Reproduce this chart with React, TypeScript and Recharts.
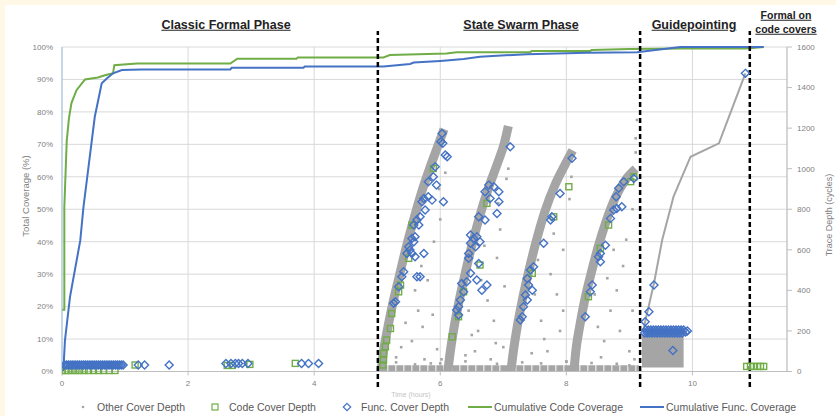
import React from "react";
import {
  ComposedChart,
  Line,
  Scatter,
  Area,
  XAxis,
  YAxis,
  CartesianGrid,
  ReferenceLine,
} from "recharts";

const GREEN = "#70AD47";
const BLUE = "#4472C4";
const GREY = "#A5A5A5";
const FONT = "'Liberation Sans', Arial, sans-serif";

// tick labels
const xTicks = [0, 2, 4, 6, 8, 10];
const pctTicks = [0, 10, 20, 30, 40, 50, 60, 70, 80, 90, 100];
const depthTicks = [0, 200, 400, 600, 800, 1000, 1200, 1400, 1600];

// phase boundaries (hours)
const phaseBoundaries = [5.01, 9.17, 10.91];

// cumulative coverage (hours, %)
const codeCoverage = [
  { x: 0, y: 19 }, { x: 0.037, y: 19 }, { x: 0.037, y: 50.6 }, { x: 0.075, y: 71 },
  { x: 0.11, y: 78 }, { x: 0.15, y: 82.7 }, { x: 0.23, y: 86.7 }, { x: 0.365, y: 90 },
  { x: 0.57, y: 90.6 }, { x: 0.68, y: 91.3 }, { x: 0.81, y: 91.9 }, { x: 0.83, y: 94.4 },
  { x: 1.19, y: 94.9 }, { x: 2.67, y: 94.9 }, { x: 2.78, y: 96.4 }, { x: 3.72, y: 96.4 },
  { x: 3.74, y: 96.8 }, { x: 5.1, y: 96.8 }, { x: 5.2, y: 97.5 }, { x: 6.1, y: 98 },
  { x: 6.26, y: 98.4 }, { x: 7.43, y: 98.4 }, { x: 7.45, y: 98.8 }, { x: 8.38, y: 98.8 },
  { x: 8.4, y: 99.1 }, { x: 9.0, y: 99.4 }, { x: 9.86, y: 99.5 }, { x: 10.87, y: 99.5 },
  { x: 11.13, y: 100 },
];

const funcCoverage = [
  { x: 0.02, y: 0 }, { x: 0.047, y: 9.6 }, { x: 0.127, y: 23 }, { x: 0.29, y: 40.4 },
  { x: 0.34, y: 50.6 }, { x: 0.42, y: 63 }, { x: 0.52, y: 78.5 }, { x: 0.63, y: 88.8 },
  { x: 0.71, y: 90.3 }, { x: 0.81, y: 91.9 }, { x: 0.95, y: 92.9 }, { x: 1.26, y: 93.1 },
  { x: 2.67, y: 93.1 }, { x: 2.69, y: 93.6 }, { x: 3.83, y: 93.6 }, { x: 3.85, y: 94.0 },
  { x: 5.1, y: 94.0 }, { x: 5.52, y: 94.75 }, { x: 5.58, y: 95.2 }, { x: 6.0, y: 95.7 },
  { x: 6.37, y: 96.3 }, { x: 6.63, y: 97.0 }, { x: 7.38, y: 97.8 }, { x: 8.33, y: 98.2 },
  { x: 9.12, y: 98.4 }, { x: 9.81, y: 100 }, { x: 11.13, y: 100 },
];

// state swarm ramps: dense "other cover depth" bands (hours, cycles)
const swarmRamp1 = [
  { x: 5.06, y: 0 }, { x: 5.1, y: 100 }, { x: 5.17, y: 220 }, { x: 5.25, y: 340 },
  { x: 5.35, y: 470 }, { x: 5.45, y: 600 }, { x: 5.57, y: 740 }, { x: 5.7, y: 880 },
  { x: 5.83, y: 1000 }, { x: 5.96, y: 1110 }, { x: 6.06, y: 1195 },
];
const swarmRamp2 = [
  { x: 6.12, y: 0 }, { x: 6.16, y: 100 }, { x: 6.22, y: 220 }, { x: 6.3, y: 350 },
  { x: 6.4, y: 490 }, { x: 6.5, y: 620 }, { x: 6.62, y: 760 }, { x: 6.76, y: 900 },
  { x: 6.9, y: 1020 }, { x: 7.02, y: 1130 }, { x: 7.08, y: 1210 },
];
const swarmRamp3 = [
  { x: 7.12, y: 0 }, { x: 7.16, y: 100 }, { x: 7.22, y: 220 }, { x: 7.3, y: 350 },
  { x: 7.4, y: 490 }, { x: 7.52, y: 640 }, { x: 7.66, y: 790 }, { x: 7.82, y: 920 },
  { x: 7.98, y: 1020 }, { x: 8.1, y: 1090 },
];
const swarmRamp4 = [
  { x: 8.12, y: 0 }, { x: 8.15, y: 100 }, { x: 8.21, y: 220 }, { x: 8.29, y: 350 },
  { x: 8.39, y: 480 }, { x: 8.5, y: 610 }, { x: 8.63, y: 740 }, { x: 8.78, y: 860 },
  { x: 8.95, y: 950 }, { x: 9.1, y: 1000 },
];
const swarmFloor = [{ x: 5.05, y: 16 }, { x: 9.15, y: 16 }];

// guidepointing trace and filled block
const guideTrace = [
  { x: 9.22, y: 200 }, { x: 9.25, y: 245 }, { x: 9.39, y: 435 }, { x: 9.52, y: 648 },
  { x: 9.7, y: 862 }, { x: 9.97, y: 1059 }, { x: 10.42, y: 1125 }, { x: 10.84, y: 1470 },
];
const guideBlock = [{ x: 9.2, y: 182 }, { x: 9.86, y: 200 }];

// other cover depth: loose dots
const otherDepth = [
  [5.72, 220], [5.95, 110], [5.75, 60], [5.85, 40], [5.65, 300], [5.8, 450], [5.9, 640],
  [6.0, 750], [5.7, 520], [5.6, 400], [6.02, 60], [5.55, 150], [5.88, 280], [6.08, 980],
  [5.98, 900], [5.45, 240], [5.38, 120], [5.3, 70],
  [6.6, 200], [6.75, 350], [6.9, 560], [7.0, 120], [6.55, 100], [6.85, 250], [6.65, 450],
  [6.95, 700], [7.05, 950], [6.8, 60], [6.7, 620], [6.45, 300], [6.5, 180], [7.02, 420],
  [6.92, 830], [7.08, 1000], [6.4, 80], [6.88, 140],
  [7.7, 100], [7.85, 380], [7.95, 600], [8.05, 850], [7.6, 250], [7.75, 480], [7.9, 200],
  [8.0, 50], [7.55, 550], [7.8, 680], [7.5, 380], [7.65, 160], [7.95, 300], [8.08, 960],
  [7.45, 90],
  [8.6, 150], [8.8, 400], [8.95, 650], [9.05, 800], [8.7, 300], [8.9, 520], [8.5, 220],
  [9.0, 100], [9.1, 1150], [9.12, 1240], [9.1, 1080], [8.75, 600], [8.45, 380], [8.65, 460],
  [9.05, 300], [8.85, 200], [9.08, 60], [8.55, 70],
  [5.3, 45], [5.6, 35], [6.0, 40], [6.4, 50], [6.9, 38], [7.3, 45], [7.6, 40], [8.0, 48],
  [8.4, 42], [8.8, 38], [9.0, 30],
].map(([x, y]) => ({ x, y }));

// code cover depth (green squares)
const codeDepth = [
  [0.0, 5], [0.05, 5], [0.1, 5], [0.16, 5], [0.22, 5], [0.28, 5], [0.35, 5], [0.42, 5],
  [0.5, 5], [0.58, 5], [0.66, 5], [0.75, 5], [0.84, 5], [1.16, 32], [2.62, 30], [2.7, 30],
  [2.98, 35], [3.7, 40],
  [5.89, 1001], [5.55, 722], [5.5, 558], [5.37, 426], [5.34, 393], [5.23, 286], [5.21, 212],
  [5.15, 155], [5.13, 122], [5.1, 89], [5.1, 56], [5.09, 32],
  [6.74, 829], [6.63, 525], [6.37, 393], [6.29, 270], [6.19, 171],
  [8.04, 911], [7.8, 763], [7.46, 484],
  [9.07, 960], [9.02, 936], [8.67, 722], [8.54, 607], [8.35, 369],
  [10.86, 25], [10.92, 25], [10.97, 25], [11.03, 25], [11.08, 25], [11.13, 25],
].map(([x, y]) => ({ x, y }));

// func cover depth (blue diamonds)
const funcDepth = [
  [0.04, 32], [0.07, 32], [0.1, 32], [0.13, 32], [0.16, 32], [0.19, 32], [0.22, 32], [0.25, 32],
  [0.28, 32], [0.31, 32], [0.34, 32], [0.37, 32], [0.4, 32], [0.43, 32], [0.46, 32], [0.49, 32],
  [0.52, 32], [0.55, 32], [0.58, 32], [0.61, 32], [0.64, 32], [0.67, 32], [0.7, 32], [0.73, 32],
  [0.76, 32], [0.79, 32], [0.82, 32], [0.85, 32], [0.88, 32], [0.91, 32], [0.94, 32], [0.97, 32],
  [1.21, 32], [1.31, 32], [1.7, 32],
  [2.6, 40], [2.68, 40], [2.75, 40], [2.8, 40], [2.86, 40], [2.95, 40], [3.8, 40], [3.91, 40],
  [4.07, 40],
  [6.03, 1174], [6.01, 1133], [6.04, 1125], [6.08, 1067], [6.11, 1059], [5.92, 1010], [5.89, 960],
  [5.81, 936], [5.94, 919], [6.05, 837], [5.74, 853], [5.71, 837], [5.81, 862], [5.87, 845],
  [5.76, 796], [5.68, 763], [5.63, 747], [5.58, 722], [5.66, 722], [5.6, 664], [5.55, 656],
  [5.58, 640], [5.5, 615], [5.52, 599], [5.47, 582], [5.55, 582], [5.6, 566], [5.74, 582],
  [5.42, 492], [5.39, 467], [5.63, 467], [5.68, 467], [5.34, 418], [5.29, 344], [5.26, 336],
  [7.11, 1108], [6.77, 919], [6.85, 911], [6.71, 886], [6.93, 886], [6.79, 853], [6.93, 837],
  [6.61, 763], [6.9, 779], [6.71, 747], [6.48, 673], [6.53, 656], [6.58, 664], [6.48, 632],
  [6.56, 615], [6.45, 582], [6.63, 640], [6.45, 558], [6.61, 533], [6.48, 484], [6.58, 451],
  [6.42, 443], [6.34, 434], [6.74, 426], [6.66, 401], [6.37, 393], [6.32, 352], [6.29, 319],
  [6.26, 303], [6.29, 278],
  [8.09, 1051], [7.9, 878], [7.77, 763], [7.75, 747], [7.64, 632], [7.48, 516], [7.43, 500],
  [7.38, 459], [7.4, 426], [7.46, 401], [7.35, 377], [7.38, 352], [7.32, 319], [7.3, 270],
  [7.27, 254],
  [9.07, 952], [8.91, 936], [8.83, 903], [8.79, 862], [8.8, 804], [8.88, 812], [8.75, 796],
  [8.7, 755], [8.62, 623], [8.54, 582], [8.51, 566], [8.54, 541], [8.41, 426], [8.38, 393],
  [8.3, 270],
  [9.25, 245], [9.31, 295], [9.39, 427], [9.69, 103], [10.84, 1470],
  [9.24, 190], [9.26, 205], [9.28, 190], [9.3, 205], [9.32, 190], [9.34, 205], [9.36, 190],
  [9.38, 205], [9.4, 190], [9.42, 205], [9.44, 190], [9.46, 205], [9.48, 190], [9.5, 205],
  [9.52, 190], [9.54, 205], [9.56, 190], [9.58, 205], [9.6, 190], [9.62, 205], [9.64, 190],
  [9.66, 205], [9.68, 190], [9.7, 205], [9.72, 190], [9.74, 205], [9.76, 190], [9.78, 205],
  [9.8, 190], [9.82, 205], [9.84, 190], [9.86, 205], [9.89, 195], [9.92, 200],
].map(([x, y]) => ({ x, y }));

const Dot = (p: any) => <rect x={p.cx - 1.3} y={p.cy - 1.3} width={2.6} height={2.6} fill={GREY} />;
const Square = (p: any) => (
  <rect x={p.cx - 3} y={p.cy - 3} width={6} height={6} fill="none" stroke={GREEN} strokeWidth={1.4} />
);
const Diamond = (p: any) => {
  const r = 4;
  return (
    <path
      d={`M${p.cx},${p.cy - r}L${p.cx + r},${p.cy}L${p.cx},${p.cy + r}L${p.cx - r},${p.cy}Z`}
      fill="none"
      stroke={BLUE}
      strokeWidth={1.4}
    />
  );
};

const tickStyle = { fontSize: 8, fill: "#7F7F7F", fontFamily: FONT };
const titleStyle: React.CSSProperties = {
  position: "absolute",
  fontWeight: "bold",
  textDecoration: "underline",
  color: "#222",
  whiteSpace: "nowrap",
  transform: "translate(-50%, -50%)",
  lineHeight: 1,
};

const phaseTitles = [
  { text: "Classic Formal Phase", x: 226, y: 25, size: 12.5 },
  { text: "State Swarm Phase", x: 521, y: 25, size: 12.5 },
  { text: "Guidepointing", x: 694, y: 25, size: 12.5 },
  { text: "Formal on", x: 786, y: 15, size: 10.5 },
  { text: "code covers", x: 786, y: 29, size: 10.5 },
];

const legendItems = [
  { label: "Other Cover Depth", kind: "dot", x: 83 },
  { label: "Code Cover Depth", kind: "square", x: 215 },
  { label: "Func. Cover Depth", kind: "diamond", x: 347 },
  { label: "Cumulative Code Coverage", kind: "gline", x: 480 },
  { label: "Cumulative Func. Coverage", kind: "bline", x: 652 },
];

const LegendIcon = ({ kind }: { kind: string }) => {
  if (kind === "dot") return <svg width={26} height={10}><circle cx={13} cy={5} r={1.3} fill={GREY} /></svg>;
  if (kind === "square")
    return <svg width={26} height={10}><rect x={10} y={2} width={6} height={6} fill="none" stroke={GREEN} strokeWidth={1.2} /></svg>;
  if (kind === "diamond")
    return <svg width={26} height={10}><path d="M13,1.3L16.7,5L13,8.7L9.3,5Z" fill="none" stroke={BLUE} strokeWidth={1.2} /></svg>;
  const c = kind === "gline" ? GREEN : BLUE;
  return <svg width={26} height={10}><line x1={1} x2={25} y1={5} y2={5} stroke={c} strokeWidth={2} /></svg>;
};

export default function App() {
  return (
    <div style={{ position: "relative", width: 836, height: 416, background: "#fff", fontFamily: FONT }}>
      <style>{"body{margin:0}"}</style>
      <div style={{ position: "absolute", left: 0, top: 0, width: 836, height: 5, background: "#FFF8E6" }} />
      <div style={{ position: "absolute", left: 0, top: 0, width: 5, height: 416, background: "#FFF8E6" }} />

      <ComposedChart width={836} height={416} margin={{ top: 47, right: 0, bottom: 0, left: 0 }}>
        <CartesianGrid stroke="#D9D9D9" strokeWidth={1} />
        <XAxis
          type="number"
          dataKey="x"
          domain={[0, 11.5]}
          ticks={xTicks}
          allowDataOverflow
          height={44.5}
          stroke="#BFBFBF"
          tickSize={4}
          tickMargin={5}
          tick={tickStyle}
        />
        <YAxis
          domain={[0, 100]}
          ticks={pctTicks}
          width={62}
          tickFormatter={(v) => `${v}%`}
          axisLine={{ stroke: "#9DC3E6" }}
          tickLine={false}
          tickSize={0}
          tickMargin={9}
          tick={tickStyle}
        />
        <YAxis
          yAxisId="depth"
          orientation="right"
          domain={[0, 1600]}
          ticks={depthTicks}
          width={49}
          stroke="#BFBFBF"
          tickSize={5}
          tickMargin={5}
          tick={tickStyle}
        />

        {/* Other cover depth */}
        <Area yAxisId="depth" data={guideBlock} dataKey="y" type="linear" baseValue={20} stroke="none" fill={GREY} fillOpacity={1} isAnimationActive={false} />
        <Line yAxisId="depth" data={swarmFloor} dataKey="y" stroke={GREY} strokeWidth={6} strokeDasharray="7 1" dot={false} isAnimationActive={false} />
        {[swarmRamp1, swarmRamp2, swarmRamp3, swarmRamp4].map((d, i) => (
          <Line key={i} yAxisId="depth" data={d} dataKey="y" type="monotone" stroke={GREY} strokeWidth={9} dot={false} isAnimationActive={false} />
        ))}
        <Line yAxisId="depth" data={guideTrace} dataKey="y" stroke={GREY} strokeWidth={2} dot={false} isAnimationActive={false} />
        <Scatter yAxisId="depth" data={otherDepth} dataKey="y" shape={Dot} isAnimationActive={false} />

        {/* Code and func cover depth */}
        <Scatter yAxisId="depth" data={codeDepth} dataKey="y" shape={Square} isAnimationActive={false} />
        <Scatter yAxisId="depth" data={funcDepth} dataKey="y" shape={Diamond} isAnimationActive={false} />

        {/* Cumulative coverage */}
        <Line data={codeCoverage} dataKey="y" stroke={GREEN} strokeWidth={2} dot={false} isAnimationActive={false} />
        <Line data={funcCoverage} dataKey="y" stroke={BLUE} strokeWidth={2} dot={false} isAnimationActive={false} />

        {phaseBoundaries.map((b) => (
          <ReferenceLine
            key={b}
            segment={[{ x: b, y: -4.8 }, { x: b, y: 104.9 }]}
            ifOverflow="visible"
            stroke="#000"
            strokeWidth={2.5}
            strokeDasharray="5 3"
          />
        ))}
      </ComposedChart>

      {phaseTitles.map((t) => (
        <div key={t.text} style={{ ...titleStyle, left: t.x, top: t.y, fontSize: t.size }}>
          {t.text}
        </div>
      ))}

      <div style={{ position: "absolute", left: 25, top: 196, transform: "translate(-50%,-50%) rotate(-90deg)", fontSize: 9.5, color: "#7F7F7F", whiteSpace: "nowrap" }}>
        Total Coverage (%)
      </div>
      <div style={{ position: "absolute", left: 829, top: 215, transform: "translate(-50%,-50%) rotate(-90deg)", fontSize: 9, color: "#7F7F7F", whiteSpace: "nowrap" }}>
        Trace Depth (cycles)
      </div>
      <div style={{ position: "absolute", left: 411, top: 394, transform: "translate(-50%,-50%)", fontSize: 7, color: "#C4C4C4", whiteSpace: "nowrap" }}>
        Time (hours)
      </div>

      {legendItems.map((l) => (
        <div key={l.label} style={{ position: "absolute", left: l.x - 13, top: 401, display: "flex", alignItems: "center", fontSize: 10.5, color: "#595959", whiteSpace: "nowrap", lineHeight: "12px" }}>
          <LegendIcon kind={l.kind} />
          <span style={{ marginLeft: 1 }}>{l.label}</span>
        </div>
      ))}
    </div>
  );
}
